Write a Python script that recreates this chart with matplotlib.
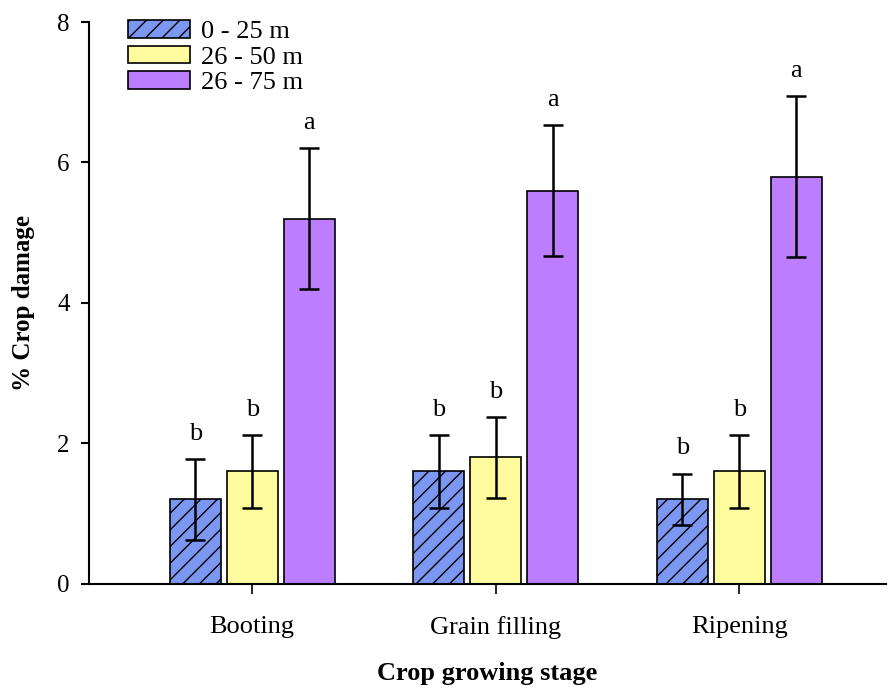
import numpy as np
import matplotlib.pyplot as plt

plt.rcParams['font.family'] = ['Liberation Serif', 'DejaVu Serif']
plt.rcParams['hatch.linewidth'] = 1.0

# Данные
stages = ["Booting", "Grain filling", "Ripening"]
groups = ["0 - 25 m", "26 - 50 m", "26 - 75 m"]
means_0_25 = [1.2, 1.6, 1.2]
means_26_50 = [1.6, 1.8, 1.6]
means_26_75 = [5.2, 5.6, 5.8]
err_0_25 = [0.58, 0.52, 0.37]
err_26_50 = [0.52, 0.58, 0.52]
err_26_75 = [1.0, 0.93, 1.15]
letters_0_25 = ["b", "b", "b"]
letters_26_50 = ["b", "b", "b"]
letters_26_75 = ["a", "a", "a"]

means = [means_0_25, means_26_50, means_26_75]
errs = [err_0_25, err_26_50, err_26_75]
letters = [letters_0_25, letters_26_50, letters_26_75]
colors = ['#7B97F2', '#FDFB9E', '#BC7DFF']
hatches = ['//', '', '']

fig = plt.figure(figsize=(8.9, 6.9), dpi=100)
ax = fig.add_axes([0.1, 0.154, 0.895, 0.814])

x = np.arange(1, len(stages) + 1)
width = 0.21
step = 0.234

for i in range(3):
    pos = x + (i - 1) * step
    ax.bar(pos, means[i], width, color=colors[i], edgecolor='black',
           linewidth=1.2, hatch=hatches[i], label=groups[i])
    ax.errorbar(pos, means[i], yerr=errs[i], fmt='none', ecolor='black',
                elinewidth=1.8, capsize=7, capthick=1.8)
    for px, m, e, t in zip(pos, means[i], errs[i], letters[i]):
        ax.text(px, m + e + 0.2, t, ha='center', va='bottom', fontsize=19)

# Оси
ax.set_xlim(0.33, 3.6)
ax.set_ylim(0, 8)
ax.set_yticks([0, 2, 4, 6, 8])
ax.set_xticks(x)
ax.set_xticklabels(stages)
ax.spines['top'].set_visible(False)
ax.spines['right'].set_visible(False)
ax.spines['left'].set_linewidth(1.5)
ax.spines['bottom'].set_linewidth(1.5)
ax.tick_params(axis='y', direction='out', length=6, width=1.5, labelsize=18, pad=8)
ax.tick_params(axis='x', direction='out', length=7, width=1.2, labelsize=19, pad=16)
ax.set_xlabel("Crop growing stage", fontsize=19, fontweight='bold', labelpad=17)
ax.set_ylabel("% Crop damage", fontsize=18, fontweight='bold', labelpad=16)

ax.legend(loc='upper left', bbox_to_anchor=(0.029, 1.032), frameon=False,
          fontsize=19, handlelength=2.35, handleheight=0.65,
          labelspacing=0.1, handletextpad=0.4, borderaxespad=0.2)

fig.savefig("out.png", dpi=100)
